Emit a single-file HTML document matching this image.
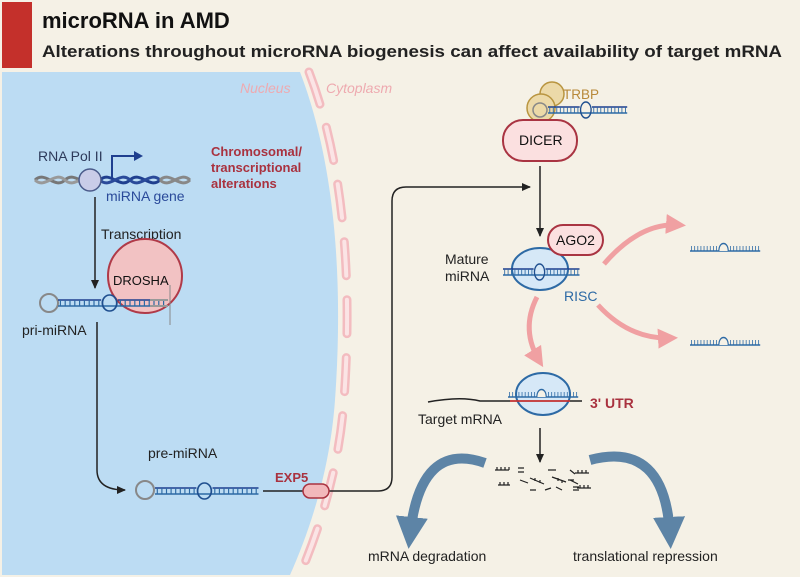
<!DOCTYPE html>
<html><head><meta charset="utf-8"><style>
body{margin:0;background:#fff}
svg{display:block;font-family:"Liberation Sans",sans-serif}
</style></head><body>
<svg width="800" height="577" viewBox="0 0 800 577" xmlns="http://www.w3.org/2000/svg">
<defs>
<marker id="ah" markerWidth="10" markerHeight="10" refX="8" refY="5" orient="auto" markerUnits="userSpaceOnUse"><path d="M0,1 L9,5 L0,9 Z" fill="#222"/></marker>
<marker id="pk" markerWidth="24" markerHeight="24" refX="14" refY="12" orient="auto" markerUnits="userSpaceOnUse"><path d="M0,2 L20,12 L0,22 Z" fill="#f0a0a2"/></marker>
<marker id="bl" markerWidth="40" markerHeight="40" refX="18" refY="20" orient="auto" markerUnits="userSpaceOnUse"><path d="M0,4 L32,20 L0,36 Z" fill="#5d84a6"/></marker>
<g id="rna">
<line x1="0" y1="0" x2="90" y2="0" stroke="#2d6aa5" stroke-width="1.5"/>
<line x1="0" y1="-6" x2="36" y2="-6" stroke="#1f3f8f" stroke-width="1.5"/>
<line x1="50" y1="-6" x2="90" y2="-6" stroke="#1f3f8f" stroke-width="1.5"/>
<path d="M2,0 V-6 M6,0 V-6 M10,0 V-6 M14,0 V-6 M18,0 V-6 M22,0 V-6 M26,0 V-6 M30,0 V-6 M34,0 V-6 M52,0 V-6 M56,0 V-6 M60,0 V-6 M64,0 V-6 M68,0 V-6 M72,0 V-6 M76,0 V-6 M80,0 V-6 M84,0 V-6 M88,0 V-6" stroke="#2d6aa5" stroke-width="1"/>
<ellipse cx="43" cy="-3" rx="6" ry="8" fill="none" stroke="#1f4f8f" stroke-width="1.5"/>
</g>
<g id="srna">
<line x1="0" y1="0" x2="90" y2="0" stroke="#2d6aa5" stroke-width="1.5"/>
<path d="M2,0 V-5 M6,0 V-5 M10,0 V-5 M14,0 V-5 M18,0 V-5 M22,0 V-5 M26,0 V-5 M30,0 V-5 M34,0 V-5 M52,0 V-5 M56,0 V-5 M60,0 V-5 M64,0 V-5 M68,0 V-5 M72,0 V-5 M76,0 V-5 M80,0 V-5 M84,0 V-5 M88,0 V-5" stroke="#2d6aa5" stroke-width="1"/>
<path d="M37,0 C37,-10 49,-10 49,0" fill="#f5f1e6" stroke="#2d6aa5" stroke-width="1.5"/>
</g>
</defs>
<rect width="800" height="577" fill="#f5f1e6"/>
<rect x="2" y="2" width="30" height="66" fill="#c4302b"/>
<text x="42" y="28" font-size="22" font-weight="bold" fill="#111">microRNA in AMD</text>
<text x="42" y="57" font-size="17" font-weight="bold" fill="#222" textLength="740" lengthAdjust="spacingAndGlyphs">Alterations throughout microRNA biogenesis can affect availability of target mRNA</text>
<!-- nucleus -->
<path d="M2,72 L300,72 C330,150 345,260 335,400 C330,470 310,530 290,575 L2,575 Z" fill="#bcdcf3"/>
<path d="M309,72 C339,150 354,260 344,400 C339,470 319,530 299,577" fill="none" stroke="#f3bcc0" stroke-width="9" stroke-linecap="round" stroke-dasharray="34 24"/>
<path d="M309,72 C339,150 354,260 344,400 C339,470 319,530 299,577" fill="none" stroke="#fbe4e5" stroke-width="4" stroke-linecap="round" stroke-dasharray="34 24"/>
<text x="240" y="93" font-size="14" font-style="italic" fill="#eeaab0">Nucleus</text>
<text x="326" y="93" font-size="14" font-style="italic" fill="#eeaab0">Cytoplasm</text>
<!-- DNA -->
<path d="M35,180 C45,170 55,190 65,180 C75,170 85,190 95,180" fill="none" stroke="#777" stroke-width="3"/>
<path d="M35,180 C45,190 55,170 65,180 C75,190 85,170 95,180" fill="none" stroke="#999" stroke-width="3"/>
<path d="M100,180 C110,170 120,190 130,180 C140,170 150,190 160,180" fill="none" stroke="#1f3f8f" stroke-width="3"/>
<path d="M100,180 C110,190 120,170 130,180 C140,190 150,170 160,180" fill="none" stroke="#2a4a9a" stroke-width="3"/>
<path d="M160,180 C170,170 180,190 190,180 M160,180 C170,190 180,170 190,180" fill="none" stroke="#888" stroke-width="3"/>
<circle cx="90" cy="180" r="11" fill="#c9cce8" stroke="#4a5a8a" stroke-width="1.5"/>
<path d="M112,178 V156 H136" fill="none" stroke="#1f3f8f" stroke-width="2"/>
<path d="M134,151 L143,156 L134,161 Z" fill="#1f3f8f"/>
<text x="38" y="161" font-size="14" fill="#2d3a5a">RNA Pol II</text>
<text x="106" y="201" font-size="14" fill="#2a4a9a">miRNA gene</text>
<text x="211" y="156" font-size="13" font-weight="bold" fill="#a9323f">Chromosomal/</text>
<text x="211" y="172" font-size="13" font-weight="bold" fill="#a9323f">transcriptional</text>
<text x="211" y="188" font-size="13" font-weight="bold" fill="#a9323f">alterations</text>
<line x1="95" y1="197" x2="95" y2="288" stroke="#222" stroke-width="1.5" marker-end="url(#ah)"/>
<text x="101" y="239" font-size="14" fill="#222">Transcription</text>
<circle cx="145" cy="276" r="37" fill="#f2c2c3" stroke="#b03a48" stroke-width="2"/>
<text x="113" y="285" font-size="13" fill="#111">DROSHA</text>
<!-- pri-miRNA -->
<circle cx="49" cy="303" r="9" fill="none" stroke="#888" stroke-width="2"/>
<use href="#rna" transform="translate(58,306) scale(1.2,1)"/>
<line x1="150" y1="300" x2="168" y2="300" stroke="#999" stroke-width="2"/>
<line x1="150" y1="306" x2="168" y2="306" stroke="#999" stroke-width="2"/>
<line x1="170" y1="285" x2="170" y2="325" stroke="#888" stroke-width="1"/>
<text x="22" y="335" font-size="14" fill="#222">pri-miRNA</text>
<path d="M97,322 V470 Q97,490 125,490" fill="none" stroke="#222" stroke-width="1.5" marker-end="url(#ah)"/>
<!-- pre-miRNA -->
<text x="148" y="458" font-size="14" fill="#222">pre-miRNA</text>
<circle cx="145" cy="490" r="9" fill="none" stroke="#888" stroke-width="2"/>
<use href="#rna" transform="translate(155,494) scale(1.15,1)"/>
<path d="M263,491 H378 Q392,491 392,477 V201 Q392,187 406,187 H530" fill="none" stroke="#222" stroke-width="1.5" marker-end="url(#ah)"/>
<rect x="303" y="484" width="26" height="14" rx="7" fill="#f2b8bb" stroke="#a9323f" stroke-width="1.5"/>
<text x="275" y="482" font-size="13" font-weight="bold" fill="#a9323f">EXP5</text>
<!-- DICER -->
<circle cx="552" cy="94" r="12" fill="#ecd9a8" stroke="#b99540" stroke-width="1.5"/>
<circle cx="541" cy="108" r="14" fill="#ecd9a8" stroke="#b99540" stroke-width="1.5"/>
<circle cx="540" cy="110" r="7" fill="none" stroke="#888" stroke-width="1.5"/>
<use href="#rna" transform="translate(548,113) scale(0.88,1)"/>
<text x="563" y="99" font-size="13.5" fill="#b8893a">TRBP</text>
<rect x="503" y="120" width="74" height="41" rx="20" fill="#fbe0e0" stroke="#a93442" stroke-width="2"/>
<text x="519" y="145" font-size="14" fill="#111">DICER</text>
<line x1="540" y1="166" x2="540" y2="236" stroke="#222" stroke-width="1.5" marker-end="url(#ah)"/>
<!-- RISC -->
<ellipse cx="540" cy="269" rx="28" ry="21" fill="#d6e8f7" stroke="#2d6aa5" stroke-width="2"/>
<use href="#rna" transform="translate(503,275) scale(0.85,1)"/>
<rect x="548" y="225" width="55" height="30" rx="15" fill="#fbe0e0" stroke="#a93442" stroke-width="2"/>
<text x="556" y="245" font-size="14" fill="#111">AGO2</text>
<text x="445" y="264" font-size="14" fill="#222">Mature</text>
<text x="445" y="281" font-size="14" fill="#222">miRNA</text>
<text x="564" y="301" font-size="14" fill="#2d6aa5">RISC</text>
<path d="M604,264 Q640,222 680,225" fill="none" stroke="#f0a0a2" stroke-width="5" marker-end="url(#pk)"/>
<path d="M598,305 Q630,340 672,338" fill="none" stroke="#f0a0a2" stroke-width="5" marker-end="url(#pk)"/>
<path d="M537,297 Q520,330 540,362" fill="none" stroke="#f0a0a2" stroke-width="5" marker-end="url(#pk)"/>
<use href="#srna" transform="translate(690,251) scale(0.78,1)"/>
<use href="#srna" transform="translate(690,345) scale(0.78,1)"/>
<!-- target -->
<ellipse cx="543" cy="394" rx="27" ry="21" fill="#d6e8f7" stroke="#2d6aa5" stroke-width="2"/>
<path d="M428,402 Q460,396 480,401 L582,401" fill="none" stroke="#222" stroke-width="1.5"/>
<line x1="510" y1="401" x2="570" y2="401" stroke="#d33" stroke-width="1.5"/>
<use href="#srna" transform="translate(508,397) scale(0.78,1)"/>
<text x="590" y="408" font-size="14" font-weight="bold" fill="#a9323f">3' UTR</text>
<text x="418" y="424" font-size="14" fill="#222">Target mRNA</text>
<line x1="540" y1="428" x2="540" y2="462" stroke="#222" stroke-width="1.5" marker-end="url(#ah)"/>
<g stroke="#222" stroke-width="1.2" fill="none">
<path d="M495,470 h14 M497,470v-3 M501,470v-3 M505,470v-3 M509,470v-3"/>
<path d="M498,485 h12 M500,485v-3 M504,485v-3 M508,485v-3"/>
<path d="M518,468 h6 M518,472 h6 M520,480 l8,3 M530,478 l14,6 M535,478 v3 M540,480v3"/>
<path d="M530,490 h6 M548,470 h8 M552,477 l14,5 M558,478v3 M562,480v3 M545,490 l6,-2 M556,487 l6,3"/>
<path d="M570,470 l5,4 M568,480 h6 M573,490 h6 M573,487 h6 M570,480 l8,4"/>
<path d="M575,473 h14 M578,473v-3 M582,473v-3 M586,473v-3 M577,488 h14 M580,488v-3 M584,488v-3 M588,488v-3"/>
</g>
<path d="M485,463 Q420,440 410,535" fill="none" stroke="#5d84a6" stroke-width="10" marker-end="url(#bl)"/>
<path d="M590,460 Q665,440 670,535" fill="none" stroke="#5d84a6" stroke-width="10" marker-end="url(#bl)"/>
<text x="368" y="561" font-size="14" fill="#222">mRNA degradation</text>
<text x="573" y="561" font-size="14" fill="#222">translational repression</text>
</svg>
</body></html>
